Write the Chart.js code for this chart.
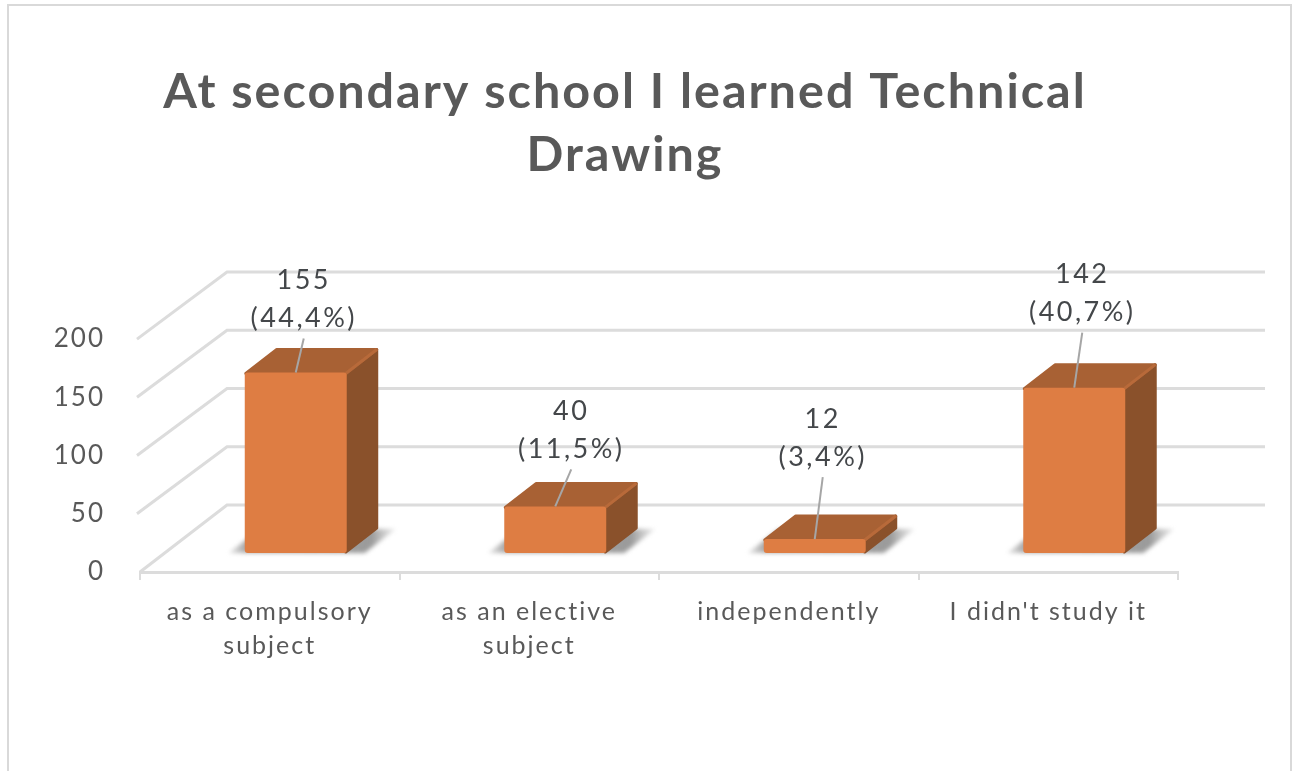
<!DOCTYPE html>
<html>
<head>
<meta charset="utf-8">
<title>Technical Drawing</title>
<script src="https://cdn.jsdelivr.net/npm/chart.js@4"></script>
<style>
html, body { margin: 0; padding: 0; background: #fff; overflow: hidden; }
#wrap { width: 1299px; height: 771px; }
</style>
</head>
<body>
<div id="wrap"><canvas id="chart" width="1299" height="771"></canvas></div>
<script>
const titleLines = ['At secondary school I learned Technical', 'Drawing'];
const categories = [['as a compulsory', 'subject'], ['as an elective', 'subject'], 'independently', "I didn't study it"];
const counts = [155, 40, 12, 142];
const shares = ['(44,4%)', '(11,5%)', '(3,4%)', '(40,7%)'];
const yTicks = [0, 50, 100, 150, 200];

const textColor = '#595959';
const labelColor = '#44474a';
const gridColor = '#dcdcdc';
const FRONT = '#de7d43';
const TOP = '#a86134';
const SIDE = '#8a512b';

// the 3d look: how far the back wall sits from the axis plane, and how far the bars sit inside
const wall = { dx: 87, dy: -67 };
const barShift = { dx: 26, dy: -19 };
const barDepth = { dx: 31, dy: -24 };
const wallRight = 1265;

// leader lines from the top of each bar up to its label
const leaderRise = [34, 37, 62, 55];
const leaderLean = [8, 16, 8, 8];

const scene3d = {
    id: 'scene3d',
    afterLayout(chart) {
        // title is centred on the plot with its wall, not on the canvas
        chart.titleBlock.left = 72;
    },
    beforeDraw(chart) {
        const ctx = chart.ctx;
        ctx.letterSpacing = '2px';
        ctx.fillStyle = '#fff';
        ctx.fillRect(0, 0, chart.width, chart.height);
        ctx.strokeStyle = '#d9d9d9';
        ctx.lineWidth = 2;
        ctx.strokeRect(8, 5, 1283, 800);
    },
    beforeDatasetsDraw(chart) {
        const ctx = chart.ctx;
        const area = chart.chartArea;
        const y = chart.scales.y;

        ctx.save();
        ctx.strokeStyle = gridColor;
        ctx.lineWidth = 3;
        yTicks.forEach(t => {
            const py = y.getPixelForValue(t);
            ctx.beginPath();
            ctx.moveTo(t === 0 ? area.left : area.left - 3, py);
            ctx.lineTo(area.left + wall.dx, py + wall.dy);
            ctx.lineTo(wallRight, py + wall.dy);
            ctx.stroke();
        });
        ctx.restore();

        const meta = chart.getDatasetMeta(0);
        meta.data.forEach(bar => {
            const x0 = bar.x - bar.width / 2 + barShift.dx;
            const x1 = bar.x + bar.width / 2 + barShift.dx;
            const base = bar.base + barShift.dy;
            const top = bar.y + barShift.dy;

            // floor shadow
            ctx.save();
            ctx.filter = 'blur(2px)';
            const g = ctx.createLinearGradient(x0 - 16, 0, x1 + 50, 0);
            g.addColorStop(0, 'rgba(150,150,150,0.25)');
            g.addColorStop(0.1, 'rgba(130,130,130,0.7)');
            g.addColorStop(0.85, 'rgba(130,130,130,0.8)');
            g.addColorStop(1, 'rgba(170,170,170,0.2)');
            ctx.fillStyle = g;
            ctx.beginPath();
            ctx.moveTo(x0 - 16, base);
            ctx.lineTo(x0 + barDepth.dx - 16, base + barDepth.dy);
            ctx.lineTo(x1 + barDepth.dx + 18, base + barDepth.dy);
            ctx.lineTo(x1 + 18, base);
            ctx.closePath();
            ctx.fill();
            ctx.restore();

            // side face
            ctx.save();
            ctx.lineJoin = 'round';
            ctx.lineWidth = 3;
            ctx.fillStyle = SIDE;
            ctx.strokeStyle = SIDE;
            ctx.beginPath();
            ctx.moveTo(x1 - 1, base - 1);
            ctx.lineTo(x1 - 1 + barDepth.dx, base - 1 + barDepth.dy);
            ctx.lineTo(x1 - 1 + barDepth.dx, top + 1 + barDepth.dy);
            ctx.lineTo(x1 - 1, top + 1);
            ctx.closePath();
            ctx.fill();
            ctx.stroke();

            // top face
            ctx.fillStyle = TOP;
            ctx.strokeStyle = TOP;
            ctx.beginPath();
            ctx.moveTo(x0 + 1, top + 1);
            ctx.lineTo(x0 + 1 + barDepth.dx, top + 1 + barDepth.dy);
            ctx.lineTo(x1 - 1 + barDepth.dx, top + 1 + barDepth.dy);
            ctx.lineTo(x1 - 1, top + 1);
            ctx.closePath();
            ctx.fill();
            ctx.stroke();

            // lighter bevel where top meets side
            ctx.strokeStyle = '#b86a3a';
            ctx.beginPath();
            ctx.moveTo(x1 - 1, top + 1);
            ctx.lineTo(x1 - 1 + barDepth.dx, top + 1 + barDepth.dy);
            ctx.stroke();
            ctx.restore();
        });

        // the library draws the front faces, pushed back onto the floor
        ctx.save();
        ctx.translate(barShift.dx, barShift.dy);
    },
    afterDatasetsDraw(chart) {
        const ctx = chart.ctx;
        ctx.restore();

        const meta = chart.getDatasetMeta(0);
        ctx.save();
        meta.data.forEach((bar, i) => {
            const fx = bar.x + barShift.dx;
            const fy = bar.y + barShift.dy;
            const ex = fx + leaderLean[i];
            const ey = fy - leaderRise[i];

            ctx.strokeStyle = '#a6a6a6';
            ctx.lineWidth = 2;
            ctx.beginPath();
            ctx.moveTo(fx, fy);
            ctx.lineTo(ex, ey);
            ctx.stroke();

            ctx.fillStyle = labelColor;
            ctx.font = '27px Lato';
            ctx.textAlign = 'center';
            ctx.textBaseline = 'middle';
            ctx.letterSpacing = '2.5px';
            ctx.fillText(String(counts[i]), ex, ey - 58);
            ctx.fillText(shares[i], ex, ey - 20);
        });
        ctx.restore();
    }
};

new Chart(document.getElementById('chart').getContext('2d'), {
    type: 'bar',
    data: {
        labels: categories,
        datasets: [{
            data: counts,
            backgroundColor: FRONT,
            borderRadius: 3,
            borderSkipped: false,
            barPercentage: 0.393,
            categoryPercentage: 1
        }]
    },
    plugins: [scene3d],
    options: {
        responsive: false,
        animation: false,
        layout: { padding: { left: 0, right: 121, top: 0, bottom: 0 } },
        plugins: {
            legend: { display: false },
            tooltip: { enabled: false },
            title: {
                display: true,
                text: titleLines,
                color: textColor,
                font: { family: 'Lato', size: 48.5, weight: 'bold', lineHeight: 1.3 },
                padding: { top: 61, bottom: 152 }
            }
        },
        scales: {
            x: {
                grid: { drawOnChartArea: false, color: gridColor, lineWidth: 2, tickLength: 8 },
                border: { color: gridColor, width: 3 },
                ticks: {
                    color: textColor,
                    font: { family: 'Lato', size: 25, lineHeight: 1.36 },
                    padding: 15,
                    maxRotation: 0,
                    minRotation: 0
                },
                afterFit(scale) { scale.height = 199; }
            },
            y: {
                min: 0,
                max: 200,
                grid: { display: false },
                border: { display: false },
                ticks: {
                    stepSize: 50,
                    color: textColor,
                    font: { family: 'Lato', size: 26 },
                    padding: 27
                },
                afterFit(scale) { scale.width = 140; }
            }
        }
    }
});
</script>
</body>
</html>
